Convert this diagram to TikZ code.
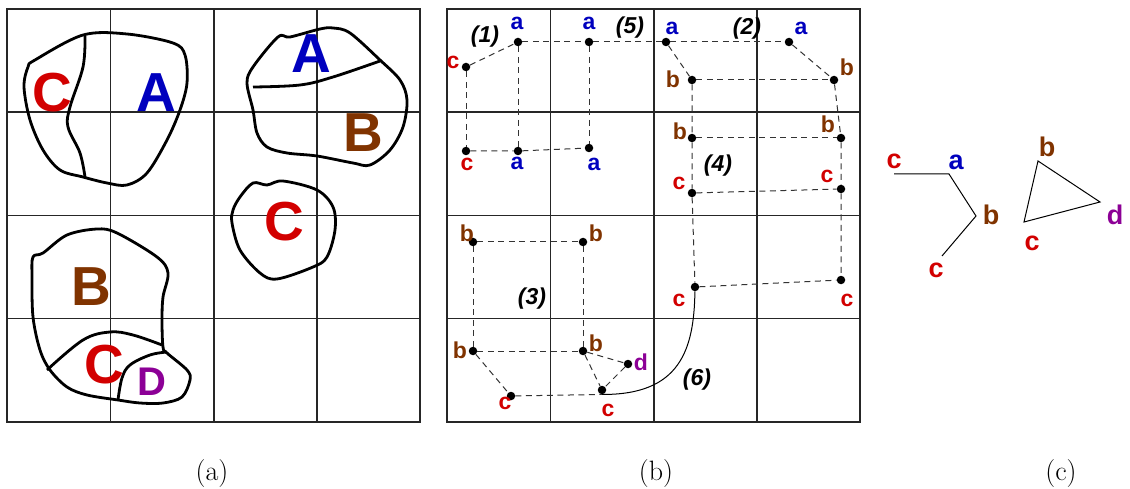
\documentclass[tikz,border=0pt]{standalone}
\usepackage{fontspec}
\newfontfamily\hv{Liberation Sans}
\definecolor{cred}{RGB}{210,0,0}
\definecolor{cblue}{RGB}{0,0,190}
\definecolor{cbrown}{RGB}{128,51,0}
\definecolor{cpurple}{RGB}{140,0,150}
\tikzset{
  gridline/.style={line width=1.2pt, draw=black!85},
  blob/.style={line width=2.8pt, line join=round},
  bigR/.style={inner sep=0pt, font=\hv\bfseries\fontsize{55}{55}\selectfont},
  lab/.style={inner sep=0pt, font=\hv\bfseries\fontsize{23}{23}\selectfont},
  labc/.style={inner sep=0pt, font=\hv\bfseries\fontsize{27}{27}\selectfont},
  num/.style={inner sep=0pt, font=\hv\bfseries\itshape\fontsize{23}{23}\selectfont},
  dot/.style={circle, fill=black, inner sep=0pt, minimum size=8.5pt},
  dl/.style={draw=black!80, line width=1pt, dash pattern=on 6pt off 4.5pt},
  captext/.style={inner sep=0pt, anchor=base, font=\fontsize{28}{28}\selectfont},
  thinl/.style={line width=1pt}
}
\begin{document}
\begin{tikzpicture}[x=1pt,y=-1pt]
\useasboundingbox (0,0) rectangle (1130,489);
% ---------- panel (a) grid ----------
\foreach \v in {110.5,214,317} {\draw[gridline] (\v,9) -- (\v,422);}
\foreach \h in {112,215.5,318.5} {\draw[gridline] (7,\h) -- (420,\h);}
\draw[gridline] (7,9) rectangle (420,422);
% blob 1
\draw[blob] plot[smooth cycle, tension=0.55] coordinates {(35,60) (83,35) (127,34) (173,43) (185,55) (187,83) (180,110) (167,140) (147,173) (127,185) (107,183) (83,177) (60,170) (43,150) (30,120) (24,87) (28,67)};
\draw[blob] plot[smooth, tension=0.6] coordinates {(85,36) (83,67) (70,107) (68,127) (80,153) (85,177)};
% blob 2
\draw[blob] plot[smooth cycle, tension=0.55] coordinates {(247,83) (253,67) (278,37) (290,37) (320,29) (333,28) (350,33) (380,60) (400,80) (407,100) (403,127) (390,150) (370,165) (353,163) (317,156) (287,153) (267,147) (257,133) (253,110)};
\draw[blob] plot[smooth, tension=0.6] coordinates {(253,87) (300,85) (333,77) (380,61)};
% blob 3
\draw[blob] plot[smooth cycle, tension=0.55] coordinates {(240,197) (253,183) (267,185) (283,181) (317,190) (333,207) (335,230) (327,257) (313,267) (277,279) (260,273) (240,250) (232,223) (233,210)};
% blob 4
\draw[blob] plot[smooth cycle, tension=0.55] coordinates {(33,257) (43,253) (67,235) (97,229) (117,233) (157,257) (168,273) (163,297) (162,320) (163,347) (167,353) (187,370) (190,380) (182,397) (163,403) (140,403) (118,400) (87,395) (67,387) (50,370) (40,350) (33,317) (32,277)};
\draw[blob] plot[smooth, tension=0.6] coordinates {(47,370) (83,340) (110,332) (133,335) (162,345)};
\draw[blob] plot[smooth, tension=0.6] coordinates {(167,352) (150,355) (130,365) (122,378) (118,400)};
% big labels
\node[bigR, text=cred]   (LC1) at (52,93)  {C};
\node[bigR, text=cblue]  (LA1) at (156,93) {A};
\node[bigR, text=cblue]  (LA2) at (311,54) {A};
\node[bigR, text=cbrown] (LB2) at (363,133) {B};
\node[bigR, text=cred]   (LC3) at (284,222) {C};
\node[bigR, text=cbrown] (LB4) at (91,287) {B};
\node[bigR, text=cred]   (LC4) at (104,365) {C};
\node[inner sep=0pt, text=cpurple, font=\hv\bfseries\fontsize{40}{40}\selectfont] (LD4) at (152,382) {D};
% ---------- panel (b) grid ----------
\foreach \v in {550.5,654,757} {\draw[gridline] (\v,9) -- (\v,422);}
\foreach \h in {112,215.5,318.5} {\draw[gridline] (447,\h) -- (860,\h);}
\draw[gridline] (447,9) rectangle (860,422);
% dots
\node[dot] (a1) at (518,42) {};
\node[dot] (a2) at (589,42) {};
\node[dot] (c1) at (466,67) {};
\node[dot] (c2) at (466,151) {};
\node[dot] (a3) at (518,151) {};
\node[dot] (a4) at (589,148) {};
\node[dot] (a5) at (666,42) {};
\node[dot] (b1) at (692,80) {};
\node[dot] (a6) at (789,42) {};
\node[dot] (b2) at (834,80) {};
\node[dot] (b3) at (692,138) {};
\node[dot] (b4) at (841,138) {};
\node[dot] (c3) at (692,193) {};
\node[dot] (c4) at (841,189) {};
\node[dot] (c5) at (695,287) {};
\node[dot] (c6) at (841,280) {};
\node[dot] (b5) at (473,242) {};
\node[dot] (b6) at (583,242) {};
\node[dot] (b7) at (473,351) {};
\node[dot] (b8) at (583,351) {};
\node[dot] (c7) at (511,396) {};
\node[dot] (c8) at (602,390) {};
\node[dot] (d1) at (628,364) {};
% dashed connectors
\draw[dl] (c1) -- (a1);
\draw[dl] (a1) -- (a2) -- (a5) -- (a6);
\draw[dl] (a1) -- (a3);
\draw[dl] (a2) -- (a4);
\draw[dl] (c1) -- (c2);
\draw[dl] (c2) -- (a3) -- (a4);
\draw[dl] (a5) -- (b1);
\draw[dl] (a6) -- (b2);
\draw[dl] (b1) -- (b2);
\draw[dl] (b2) -- (b4) -- (c4) -- (c6);
\draw[dl] (b1) -- (b3) -- (c3) -- (c5);
\draw[dl] (b3) -- (b4);
\draw[dl] (c3) -- (c4);
\draw[dl] (c5) -- (c6);
\draw[dl] (b5) -- (b6);
\draw[dl] (b5) -- (b7);
\draw[dl] (b6) -- (b8);
\draw[dl] (b7) -- (b8);
\draw[dl] (b7) -- (c7);
\draw[dl] (c7) -- (c8.south);
\draw[dl] (b8) -- (c8);
\draw[dl] (b8) -- (d1);
\draw[dl] (d1) -- (c8);
% solid curve (6)
\draw[thinl] (c8.south) .. controls (680,395) and (694,350) .. (c5);
% letters
\node[lab, text=cblue]  (la1) at (517,23) {a};
\node[lab, text=cblue]  (la2) at (589,23) {a};
\node[lab, text=cred]   (lc1) at (453,62) {c};
\node[lab, text=cred]   (lc2) at (467,164) {c};
\node[lab, text=cblue]  (la3) at (517,163) {a};
\node[lab, text=cblue]  (la4) at (594,164) {a};
\node[lab, text=cblue]  (la5) at (672,28) {a};
\node[lab, text=cblue]  (la6) at (801,28) {a};
\node[lab, text=cbrown] (lb2) at (847,67) {b};
\node[lab, text=cbrown] (lb1) at (673,79) {b};
\node[lab, text=cbrown] (lb3) at (680,131) {b};
\node[lab, text=cbrown] (lb4) at (828,124) {b};
\node[lab, text=cred]   (lc3) at (679,183) {c};
\node[lab, text=cred]   (lc4) at (827,176) {c};
\node[lab, text=cred]   (lc5) at (679,300) {c};
\node[lab, text=cred]   (lc6) at (847,300) {c};
\node[lab, text=cbrown] (lb5) at (467,233) {b};
\node[lab, text=cbrown] (lb6) at (596,233) {b};
\node[lab, text=cbrown] (lb7) at (460,350) {b};
\node[lab, text=cbrown] (lb8) at (596,343) {b};
\node[lab, text=cpurple] (ld1) at (641,362) {d};
\node[lab, text=cred]   (lc7) at (505,403) {c};
\node[lab, text=cred]   (lc8) at (608,410) {c};
\node[num] (n1) at (485,37) {(1)};
\node[num] (n5) at (630,28) {(5)};
\node[num] (n2) at (747,29) {(2)};
\node[num] (n4) at (718,166) {(4)};
\node[num] (n3) at (532,299) {(3)};
\node[num] (n6) at (697,380) {(6)};
% ---------- panel (c) ----------
\coordinate (p1) at (894,174);
\coordinate (p2) at (949,174);
\coordinate (p3) at (976,216);
\coordinate (p4) at (942,256);
\draw[thinl] (p1) -- (p2) -- (p3) -- (p4);
\coordinate (t1) at (1038,161);
\coordinate (t2) at (1100,202);
\coordinate (t3) at (1024,222);
\draw[thinl] (t1) -- (t2) -- (t3) -- cycle;
\node[labc, text=cred]    (q1) at (894,161) {c};
\node[labc, text=cblue]   (q2) at (956,162) {a};
\node[labc, text=cbrown]  (q3) at (991,215) {b};
\node[labc, text=cred]    (q4) at (936,270) {c};
\node[labc, text=cbrown]  (q5) at (1047,147) {b};
\node[labc, text=cpurple] (q6) at (1115,215) {d};
\node[labc, text=cred]    (q7) at (1032,243) {c};
% captions
\node[captext] (capa) at (212,480) {(a)};
\node[captext] (capb) at (656,480) {(b)};
\node[captext] (capc) at (1061,480) {(c)};
\end{tikzpicture}
\end{document}
